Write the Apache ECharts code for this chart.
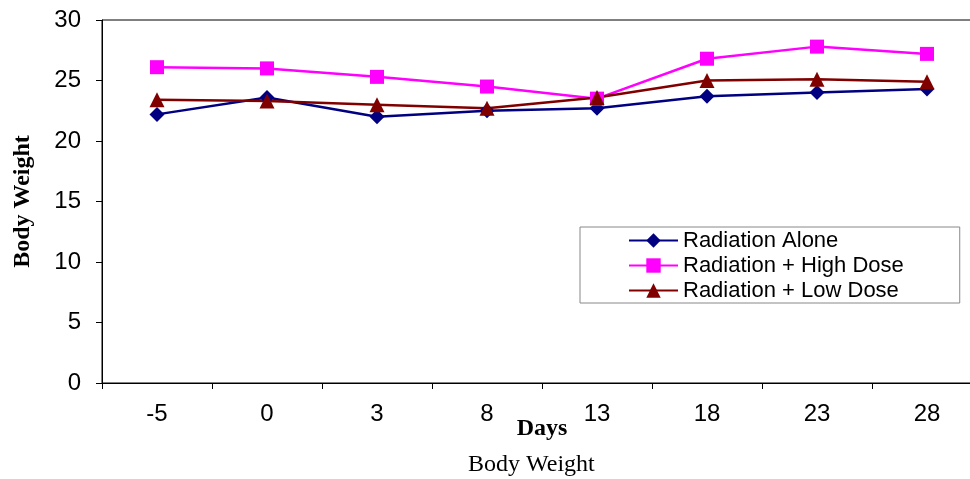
<!DOCTYPE html>
<html>
<head>
<meta charset="utf-8">
<script src="https://cdn.jsdelivr.net/npm/echarts@6/dist/echarts.min.js"></script>
<style>
  html, body { margin: 0; padding: 0; background: #fff; overflow: hidden; }
  /* the plot runs a little past the right edge of the window */
  #chart { width: 982px; height: 479px; }
</style>
</head>
<body>
<div id="chart"></div>
<script>
// Days of measurement
const days = ['-5', '0', '3', '8', '13', '18', '23', '28'];
// Mean body weight per group
const radiationAlone = [22.2, 23.6, 22.0, 22.5, 22.7, 23.7, 24.0, 24.3];
const radiationHighDose = [26.1, 26.0, 25.3, 24.5, 23.5, 26.8, 27.8, 27.2];
const radiationLowDose = [23.4, 23.3, 23.0, 22.7, 23.6, 25.0, 25.1, 24.9];
// Y axis range
const yMin = 0, yMax = 30, yStep = 5;

const chart = echarts.init(document.getElementById('chart'), null, { renderer: 'canvas' });

const sansFont = '"Liberation Sans", Arial, sans-serif';
const serifFont = '"Liberation Serif", "Times New Roman", serif';

function lineSeries(name, data, color, symbol, size) {
  return {
    name: name,
    type: 'line',
    data: data,
    symbol: symbol,
    symbolSize: size,
    showAllSymbol: true,
    lineStyle: { color: color, width: 2.5 },
    itemStyle: { color: color },
    emphasis: { disabled: true },
    animation: false
  };
}

chart.setOption({
  animation: false,
  grid: {
    left: 102, top: 20, right: 0, bottom: 96,
    outerBoundsMode: 'none',
    containLabel: false,
    show: true, borderColor: '#000', borderWidth: 1, backgroundColor: 'transparent'
  },
  legend: {
    orient: 'vertical',
    left: 580, top: 227,
    padding: [1, 56, 0, 48],
    itemGap: 0,
    itemWidth: 49, itemHeight: 18,
    borderColor: '#888', borderWidth: 1,
    backgroundColor: '#fff',
    textStyle: { fontFamily: sansFont, fontSize: 22, color: '#000', lineHeight: 25 },
    data: ['Radiation Alone', 'Radiation + High Dose', 'Radiation + Low Dose']
  },
  xAxis: {
    type: 'category',
    data: days,
    boundaryGap: true,
    name: 'Days',
    nameLocation: 'middle',
    nameGap: 34,
    nameMoveOverlap: false,
    nameTextStyle: { fontFamily: serifFont, fontWeight: 'bold', fontSize: 24, color: '#000' },
    axisLine: { lineStyle: { color: '#000', width: 1 } },
    axisTick: { show: true, alignWithLabel: false, length: 6, lineStyle: { color: '#000' } },
    axisLabel: { fontFamily: sansFont, fontSize: 24, color: '#000', margin: 19 },
    splitLine: { show: false }
  },
  yAxis: {
    type: 'value',
    min: yMin, max: yMax, interval: yStep,
    name: 'Body Weight',
    nameLocation: 'middle',
    nameGap: 67,
    nameTextStyle: { fontFamily: serifFont, fontWeight: 'bold', fontSize: 24, color: '#000' },
    axisLine: { show: true, lineStyle: { color: '#000', width: 1 } },
    axisTick: { show: true, length: 6, lineStyle: { color: '#000' } },
    axisLabel: { fontFamily: sansFont, fontSize: 24, color: '#000', margin: 21 },
    splitLine: { show: false }
  },
  graphic: [{
    type: 'text',
    left: 468, top: 453,
    style: { text: 'Body Weight', font: '24px ' + serifFont, fill: '#000' }
  }],
  series: [
    lineSeries('Radiation Alone', radiationAlone, '#000080', 'diamond', 15),
    lineSeries('Radiation + High Dose', radiationHighDose, '#FF00FF', 'rect', 14),
    lineSeries('Radiation + Low Dose', radiationLowDose, '#800000', 'triangle', 15)
  ]
});
</script>
</body>
</html>
